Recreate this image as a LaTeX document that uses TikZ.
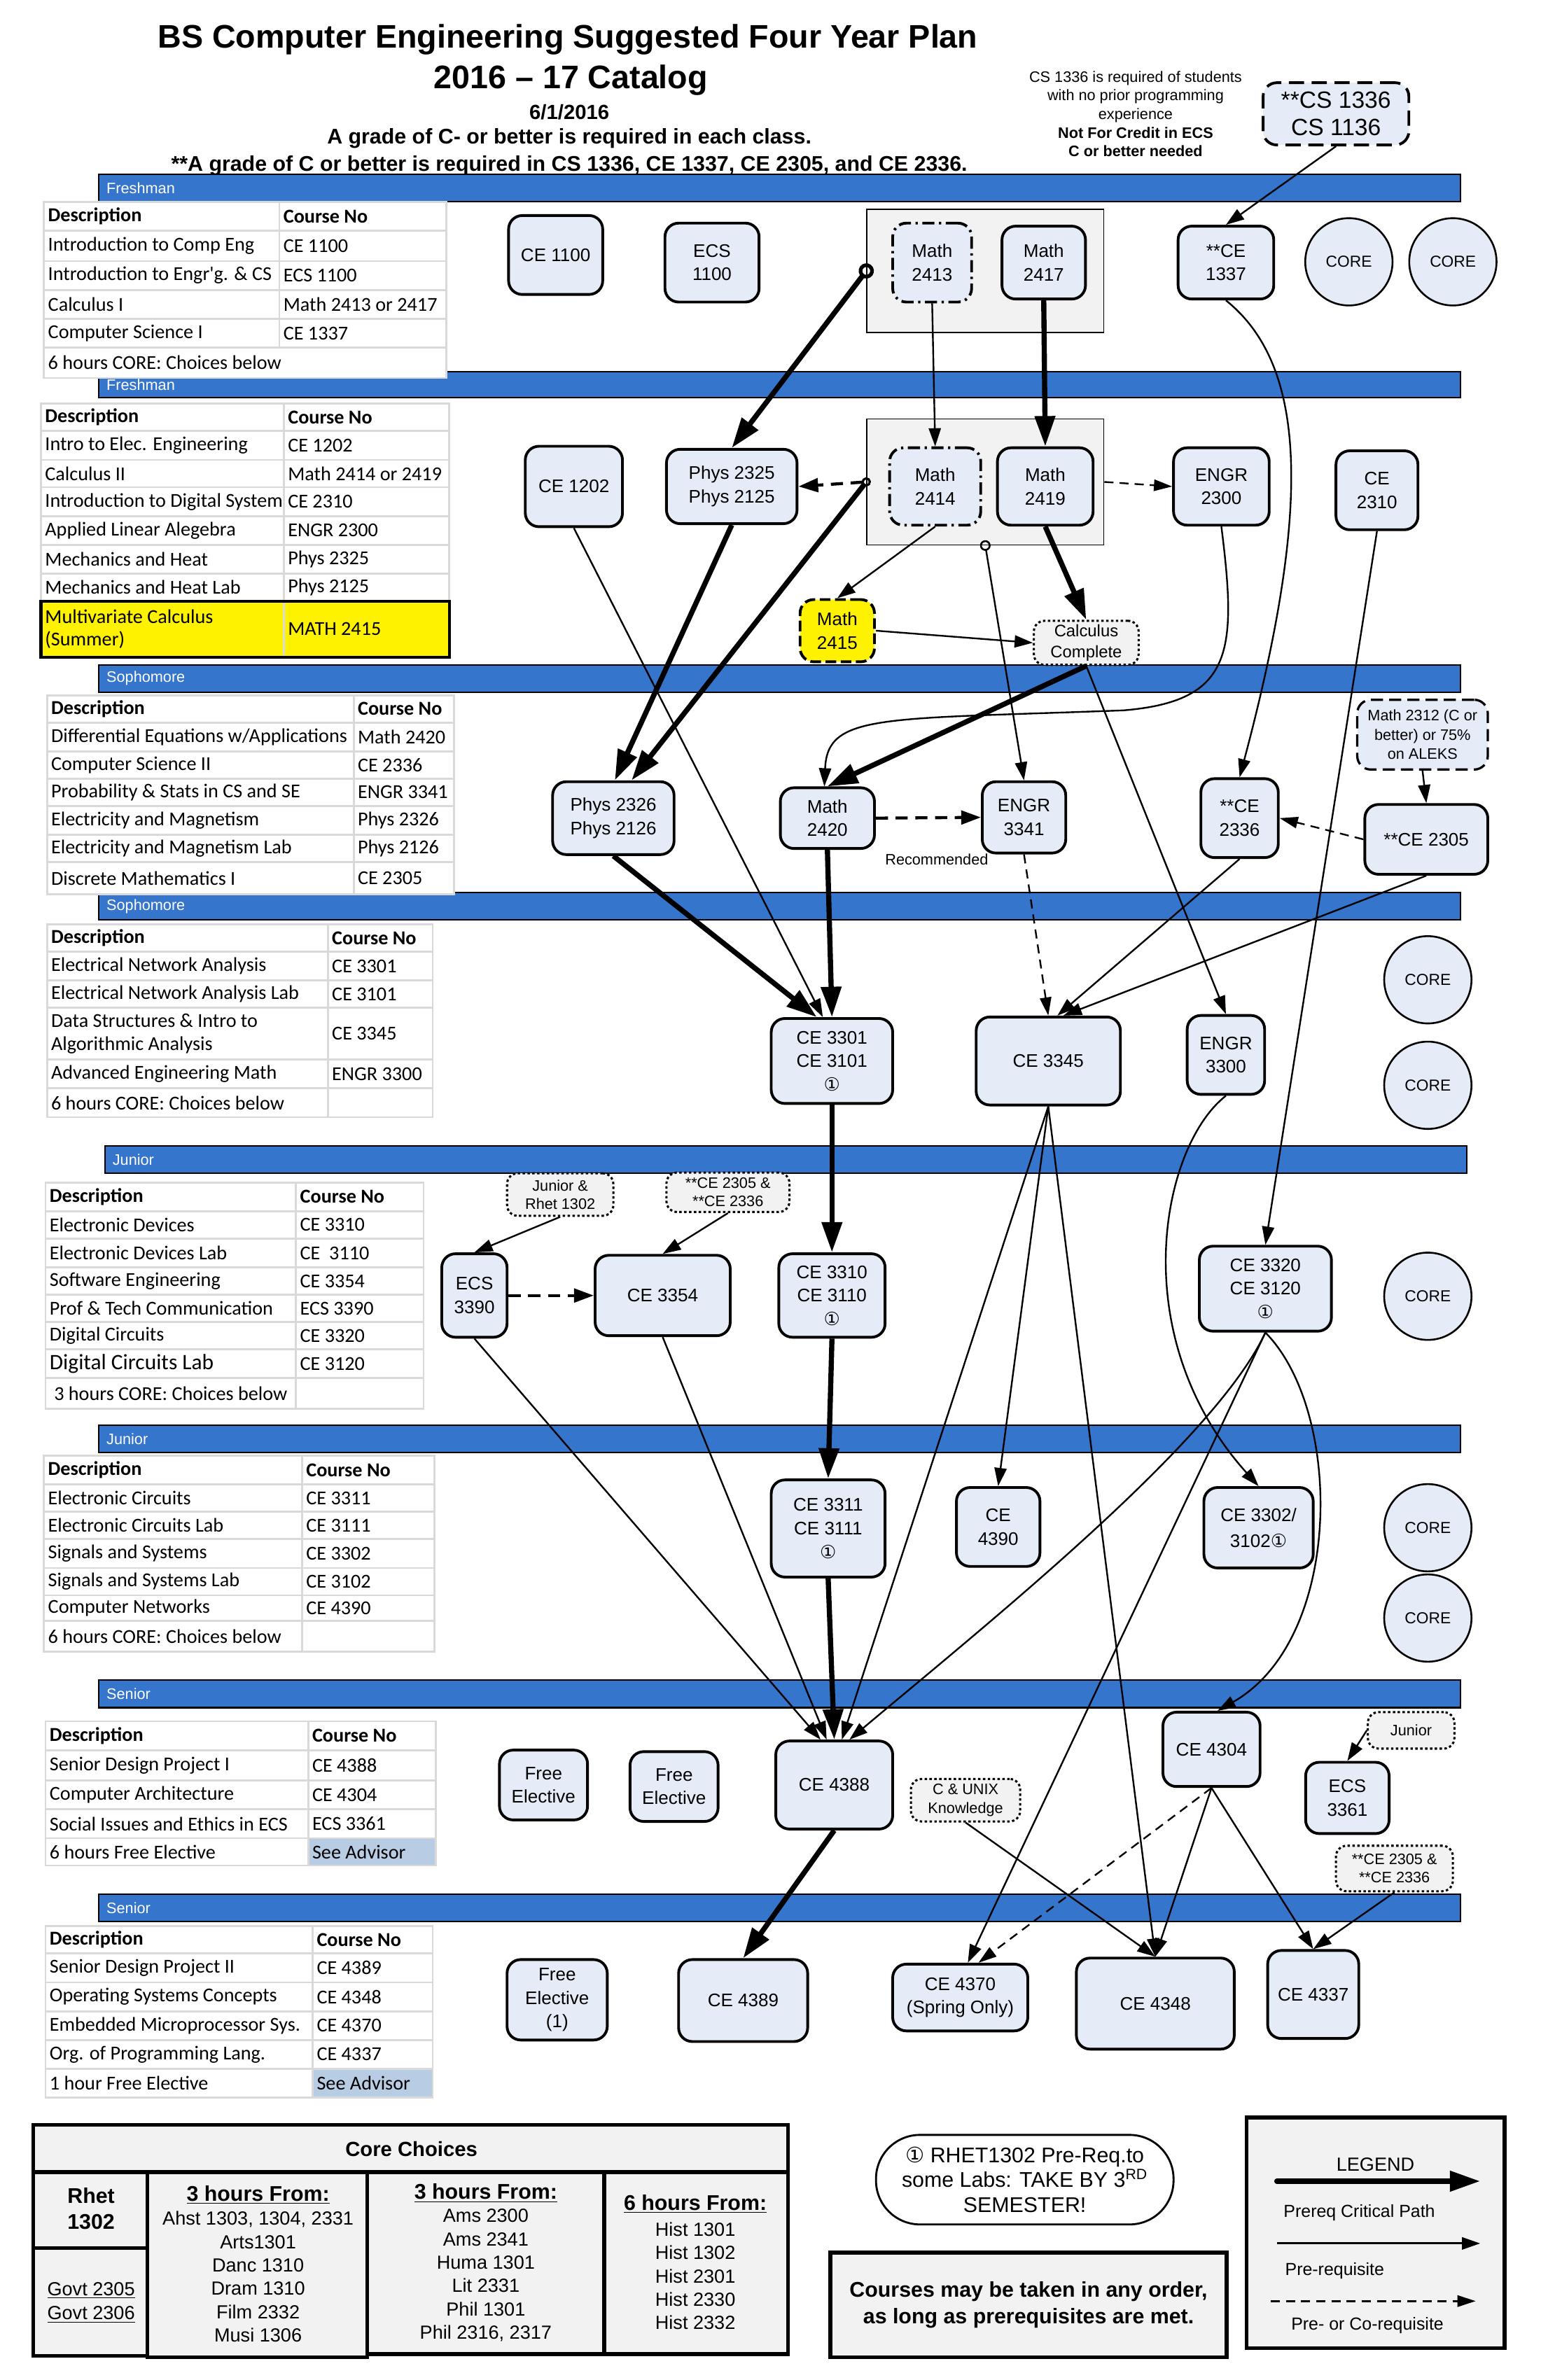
\documentclass[tikz,border=0pt]{standalone}
\usepackage{fontspec}
\setmainfont{Liberation Sans}
\newfontfamily\tabfont{Carlito}
\newfontfamily\symfont{DejaVu Sans}
\usepackage{tikz}
\usetikzlibrary{arrows.meta, positioning, calc}
\definecolor{bandblue}{HTML}{3575CC}
\definecolor{nodeblue}{HTML}{E6ECF7}
\definecolor{notegray}{HTML}{F2F2F2}
\definecolor{cellgray}{HTML}{D9D9D9}
\definecolor{advisorblue}{HTML}{B8CCE4}
\newcommand{\fsz}[2]{\fontsize{#1}{#2}\selectfont}
\newcommand{\circone}{{\symfont ①}}
\tikzset{
	wh/.style 2 args={minimum width=#1pt, minimum height=#2pt},
	course/.style={rectangle, rounded corners=9pt, draw=black, line width=1.8pt, fill=nodeblue, align=center, inner sep=0pt, font=\fsz{12}{15.5}},
	corecircle/.style={circle, draw=black, line width=1.2pt, fill=nodeblue, minimum size=57.5pt, inner sep=0pt, font=\fsz{10.5}{12}},
	notebox/.style={rectangle, rounded corners=7pt, draw=black, line width=1.4pt, dash pattern=on 1.6pt off 1.6pt, fill=notegray, align=center, inner sep=0pt, font=\fsz{10}{12.2}},
	dashdotbox/.style={dash pattern=on 8pt off 3pt on 1.5pt off 3pt},
	groupbox/.style={rectangle, draw=black, line width=0.8pt, fill=notegray, inner sep=0pt},
	band/.style={draw=black, line width=1pt, fill=bandblue},
	bandlabel/.style={anchor=west, text=white, inner sep=0pt, font=\fsz{10}{12}},
	cellframe/.style={draw=cellgray, line width=1.3pt},
	celltext/.style={anchor=west, align=left, inner sep=0pt, font=\tabfont\fsz{13}{15}},
	corebox/.style={draw=black, line width=2.5pt, fill=notegray},
	prereq/.style={line width=1.1pt, -{Triangle[length=12pt,width=8pt]}},
	critpath/.style={line width=3.4pt, -{Triangle[length=20pt,width=13pt]}},
	coreq/.style={line width=1.1pt, dash pattern=on 6pt off 4pt, -{Triangle[length=12pt,width=7.5pt]}},
	coreqbold/.style={line width=2pt, dash pattern=on 8pt off 5pt, -{Triangle[length=13pt,width=9pt]}}
}
% one table: name, left x, split x, right x, rows
\newcommand{\plantable}[5]{%
	\foreach \ya/\yb/\dtext/\ctext/\dfill/\cfill [count=\k] in {#5}{
		\draw[cellframe, fill=\dfill] (#2,\ya) rectangle (#3,\yb);
		\draw[cellframe, fill=\cfill] (#3,\ya) rectangle (#4,\yb);
		\node[celltext] (#1d\k) at ({#2+2.5},{(\ya+\yb)/2}) {\dtext};
		\node[celltext] (#1c\k) at ({#3+2.5},{(\ya+\yb)/2}) {\ctext};
	}}

\begin{document}
\begin{tikzpicture}[x=1pt, y=-1pt]
	\fill[white] (0,0) rectangle (1015,1568);
	\useasboundingbox (0,0) rectangle (1015,1568);

	% Title
	\node (title) at (374,26) {\fsz{21.5}{24}\bfseries BS Computer Engineering Suggested Four Year Plan};
	\node (catalog) at (376,53) {\fsz{21.5}{24}\bfseries 2016 – 17 Catalog};
	\node (date) at (375,74) {\fsz{13.5}{16}\bfseries 6/1/2016};
	\node (gradeA) at (375,91) {\fsz{14}{16}\bfseries A grade of C- or better is required in each class.};
	\node (gradeB) at (375,109) {\fsz{14}{16}\bfseries **A grade of C or better is required in CS 1336, CE 1337, CE 2305, and CE 2336.};
	\node[align=center, font=\fsz{10}{12.3}] (csnote) at (748,75) {CS 1336 is required of students\\with no prior programming\\experience\\\textbf{Not For Credit in ECS}\\\textbf{C or better needed}};

	% Year bands
	\foreach \ya/\yb/\xa/\xb/\lbl [count=\i] in {115/133/65/962/Freshman, 245/262/65/962/Freshman, 438/456/65/962/Sophomore, 588/606/65/962/Sophomore, 755/773/69/966/Junior, 939/957/65/962/Junior, 1107/1125/65/962/Senior, 1248/1266/65/962/Senior}{
		\draw[band] (\xa,\ya) rectangle (\xb,\yb);
		\node[bandlabel] (band\i) at ({\xa+5},{(\ya+\yb)/2}) {\lbl};
	}

	% Semester tables
	\plantable{t1}{29}{184}{294}{133/152/{\bfseries Description}/{\bfseries Course No}/white/white, 152/172/Introduction to Comp Eng/CE 1100/white/white, 172/191/Introduction to Engr'g. \& CS/ECS 1100/white/white, 191/210/Calculus I/Math 2413 or 2417/white/white, 210/229/Computer Science I/CE 1337/white/white}
	\draw[cellframe, fill=white] (29,229) rectangle (294,249);
	\node[celltext] (t1d6) at (31.5,239) {6 hours CORE: Choices below};
	\plantable{t2}{27}{187}{296}{266/284/{\bfseries Description}/{\bfseries Course No}/white/white, 284/303/Intro to Elec. Engineering/CE 1202/white/white, 303/321/Calculus II/Math 2414 or 2419/white/white, 321/340/Introduction to Digital System/CE 2310/white/white, 340/359/Applied Linear Alegebra/ENGR 2300/white/white, 359/378/Mechanics and Heat/Phys 2325/white/white, 378/396/Mechanics and Heat Lab/Phys 2125/white/white, 396/433/Multivariate Calculus\\(Summer)/MATH 2415/yellow/yellow}
	\draw[line width=2pt] (27,396) rectangle (296,433);
	\plantable{t3}{31}{233}{299}{458/476/{\bfseries Description}/{\bfseries Course No}/white/white, 476/495/{Differential Equations w/Applications}/Math 2420/white/white, 495/513/Computer Science II/CE 2336/white/white, 513/531/Probability \& Stats in CS and SE/ENGR 3341/white/white, 531/550/Electricity and Magnetism/Phys 2326/white/white, 550/568/Electricity and Magnetism Lab/Phys 2126/white/white, 568/589/Discrete Mathematics I/CE 2305/white/white}
	\plantable{t4}{31}{216}{285}{609/627/{\bfseries Description}/{\bfseries Course No}/white/white, 627/646/Electrical Network Analysis/CE 3301/white/white, 646/664/Electrical Network Analysis Lab/CE 3101/white/white, 664/698/Data Structures \& Intro to\\Algorithmic Analysis/CE 3345/white/white, 698/717/Advanced Engineering Math/ENGR 3300/white/white, 717/736/6 hours CORE: Choices below/{}/white/white}
	\plantable{t5}{30}{195}{279}{779/798/{\bfseries Description}/{\bfseries Course No}/white/white, 798/816/Electronic Devices/CE 3310/white/white, 816/835/Electronic Devices Lab/CE\ \ 3110/white/white, 835/853/Software Engineering/CE 3354/white/white, 853/871/Prof \& Tech Communication/ECS 3390/white/white, 871/889/Digital Circuits/CE 3320/white/white, 889/908/{\fsz{14.5}{16}Digital Circuits Lab}/CE 3120/white/white, 908/928/\ 3 hours CORE: Choices below/{}/white/white}
	\plantable{t6}{29}{199}{286}{959/978/{\bfseries Description}/{\bfseries Course No}/white/white, 978/996/Electronic Circuits/CE 3311/white/white, 996/1014/Electronic Circuits Lab/CE 3111/white/white, 1014/1033/Signals and Systems/CE 3302/white/white, 1033/1051/Signals and Systems Lab/CE 3102/white/white, 1051/1068/Computer Networks/CE 4390/white/white, 1068/1088/6 hours CORE: Choices below/{}/white/white}
	\plantable{t7}{30}{203}{287}{1134/1153/{\bfseries Description}/{\bfseries Course No}/white/white, 1153/1173/Senior Design Project I/CE 4388/white/white, 1173/1192/Computer Architecture/CE 4304/white/white, 1192/1211/Social Issues and Ethics in ECS/ECS 3361/white/white, 1211/1229/6 hours Free Elective/See Advisor/white/advisorblue}
	\plantable{t8}{30}{206}{285}{1269/1287/{\bfseries Description}/{\bfseries Course No}/white/white, 1287/1306/Senior Design Project II/CE 4389/white/white, 1306/1325/Operating Systems Concepts/CE 4348/white/white, 1325/1344/Embedded Microprocessor Sys./CE 4370/white/white, 1344/1363/Org. of Programming Lang./CE 4337/white/white, 1363/1382/1 hour Free Elective/See Advisor/white/advisorblue}

	% Freshman, first semester
	\node[course, wh={96}{41}, dash pattern=on 10pt off 5pt, font=\fsz{15.5}{18}] (cs1336) at (880,75) {**CS 1336\\CS 1136};
	\node[course, wh={62}{52}] (ce1100) at (366,168) {CE 1100};
	\node[course, wh={62}{52}] (ecs1100) at (469,173) {ECS\\1100};
	\node[groupbox, wh={156}{81}] (calcone) at (649,178.5) {};
	\node[course, wh={52}{52}, dashdotbox] (m2413) at (614,173) {Math\\2413};
	\node[course, wh={55}{48}] (m2417) at (687.5,173) {Math\\2417};
	\node[course, wh={63}{48}] (ce1337) at (807.5,173) {**CE\\1337};
	\node[corecircle] (core1) at (888.5,172.5) {CORE};
	\node[corecircle] (core2) at (957,172.5) {CORE};

	% Freshman, second semester
	\node[course, wh={64}{53}] (ce1202) at (378,320.5) {CE 1202};
	\node[course, wh={86}{49}] (phys2325) at (482,320.5) {Phys 2325\\Phys 2125};
	\node[groupbox, wh={156}{83}] (calctwo) at (649,317.5) {};
	\node[course, wh={60}{51}, dashdotbox] (m2414) at (616,320.5) {Math\\2414};
	\node[course, wh={63}{51}] (m2419) at (688.5,320.5) {Math\\2419};
	\node[course, wh={63}{51}] (engr2300) at (804.5,320.5) {ENGR\\2300};
	\node[course, wh={54}{52}] (ce2310) at (907,323) {CE\\2310};
	\node[course, wh={49}{41}, fill=yellow, dash pattern=on 7pt off 3pt] (m2415) at (551.5,415.5) {Math\\2415};
	\node[notebox, wh={69}{29}, font=\fsz{11}{13.5}] (calcdone) at (715.5,423.5) {Calculus\\Complete};

	% Sophomore, first semester
	\node[course, wh={80}{48}] (phys2326) at (404,539) {Phys 2326\\Phys 2126};
	\node[course, wh={62}{40}] (m2420) at (545,539) {Math\\2420};
	\node[course, wh={55}{47}] (engr3341) at (674.5,538.5) {ENGR\\3341};
	\node[course, wh={51}{52}] (ce2336) at (816.5,539) {**CE\\2336};
	\node[course, wh={86}{46}, line width=1.5pt, dash pattern=on 8pt off 4pt, font=\fsz{10}{12.7}] (m2312) at (937,484) {Math 2312 (C or\\better) or 75\%\\on ALEKS};
	\node[course, wh={81}{46}] (ce2305) at (939.5,553) {**CE 2305};
	\node[font=\fsz{10}{12}] (reclbl) at (617,566) {Recommended};

	% Sophomore, second semester
	\node[course, wh={80}{56}] (ce3301) at (548,699) {CE 3301\\CE 3101\\\circone};
	\node[course, wh={95}{58}] (ce3345) at (690.5,699) {CE 3345};
	\node[course, wh={51}{52}] (engr3300) at (807.5,695) {ENGR\\3300};
	\node[corecircle] (core3) at (940.5,645.5) {CORE};
	\node[corecircle] (core4) at (940.5,715) {CORE};

	% Junior, first semester
	\node[notebox, wh={70}{28}] (jrnote) at (369,787) {Junior \&\\Rhet 1302};
	\node[notebox, wh={81}{26}] (dmnote) at (479.5,785.5) {**CE 2305 \&\\**CE 2336};
	\node[course, wh={43}{55}] (ecs3390) at (312.5,853.5) {ECS\\3390};
	\node[course, wh={89}{53}] (ce3354) at (436.5,853.5) {CE 3354};
	\node[course, wh={70}{55}] (ce3310) at (548,853.5) {CE 3310\\CE 3110\\\circone};
	\node[course, wh={87}{56}] (ce3320) at (833.5,849) {CE 3320\\CE 3120\\\circone};
	\node[corecircle] (core5) at (940.5,854) {CORE};

	% Junior, second semester
	\node[course, wh={75}{64}] (ce3311) at (545.5,1007) {CE 3311\\CE 3111\\\circone};
	\node[course, wh={55}{52}] (ce4390) at (657.5,1006) {CE\\4390};
	\node[course, wh={72}{53}, font=\fsz{12}{17}] (ce3302) at (829,1006.5) {CE 3302/\\3102\circone};
	\node[corecircle] (core6) at (940.5,1006.5) {CORE};
	\node[corecircle] (core7) at (940.5,1066) {CORE};

	% Senior, first semester
	\node[course, wh={58}{46}] (free1) at (358,1176) {Free\\Elective};
	\node[course, wh={58}{46}] (free2) at (444,1177) {Free\\Elective};
	\node[course, wh={77}{58}] (ce4388) at (549.5,1176) {CE 4388};
	\node[notebox, wh={72}{28}] (unixnote) at (636,1186) {C \& UNIX\\Knowledge};
	\node[course, wh={64}{49}] (ce4304) at (798,1152.5) {CE 4304};
	\node[notebox, wh={57}{24}] (jnote) at (929.5,1140) {Junior};
	\node[course, wh={55}{47}] (ecs3361) at (887.5,1184.5) {ECS\\3361};
	\node[notebox, wh={77}{30}] (dmnote2) at (918.5,1231) {**CE 2305 \&\\**CE 2336};

	% Senior, second semester
	\node[course, wh={66}{53}] (free3) at (367,1317.5) {Free\\Elective\\(1)};
	\node[course, wh={85}{54}] (ce4389) at (489.5,1318) {CE 4389};
	\node[course, wh={89}{44}] (ce4370) at (632.5,1316) {CE 4370\\(Spring Only)};
	\node[course, wh={104}{60}] (ce4348) at (761,1320) {CE 4348};
	\node[course, wh={60}{58}] (ce4337) at (865,1314) {CE 4337};

	% Freshman prerequisites
	\coordinate (phystop) at ([xshift=12pt]phys2326.north);
	\draw[prereq] (cs1336.south) -- (ce1337.north);
	\draw[critpath, {Circle[open,length=10pt,width=10pt,line width=2.4pt]}-{Triangle[length=20pt,width=13pt]}] ($(calcone.west)!-5pt!(phys2325.north)$) -- (phys2325.north);
	\draw[prereq] (m2413.south) -- (m2414.north);
	\draw[critpath] (m2417.south) -- (m2419.north);
	\draw[coreqbold, {Circle[open,length=6pt,width=6pt,line width=1.3pt]}-{Triangle[length=13pt,width=9pt]}] ($(calctwo.west)!-3pt!(phys2325.east)$) -- (phys2325.east);
	\draw[critpath, {Circle[open,length=6pt,width=6pt,line width=1.3pt]}-{Triangle[length=20pt,width=13pt]}] ($(calctwo.west)!-3pt!(phystop)$) -- (phystop);
	\draw[coreq] (calctwo.east) -- (engr2300.west);
	\draw[prereq] (m2414.south) -- (m2415.north);
	\draw[critpath] (m2419.south) -- (calcdone.north);
	\draw[prereq] (m2415.east) -- (calcdone.west);
	\draw[prereq, {Circle[open,length=7pt,width=7pt,line width=1.2pt]}-{Triangle[length=12pt,width=8pt]}] ($(calctwo.south)!-3.5pt!(engr3341.north)$) -- (engr3341.north);
	\draw[critpath] (calcdone.south) -- (m2420.north);
	\draw[prereq] (engr2300.south) .. controls (815,430) and (812,462) .. (740,468) .. controls (580,474) and (545,470) .. ([xshift=-2pt]m2420.north);
	\draw[prereq] (ce1337.south) .. controls (860,240) and (865,330) .. (ce2336.north);
	\draw[prereq] (ce2310.south) -- (ce3320.north);
	\draw[prereq] (ce1202.south) -- ([xshift=-6pt]ce3301.north);
	\draw[critpath] (phys2325.south) -- ([xshift=1pt]phys2326.north);

	% Sophomore prerequisites
	\draw[critpath] (phys2326.south) -- ([xshift=-10pt]ce3301.north);
	\draw[critpath] (m2420.south) -- (ce3301.north);
	\draw[coreqbold] (m2420.east) -- (engr3341.west);
	\draw[prereq] (m2312.south) -- (ce2305.north);
	\draw[coreq] (ce2305.west) -- (ce2336.east);
	\draw[coreq] (engr3341.south) -- (ce3345.north);
	\draw[prereq] (ce2336.south) -- ([xshift=6pt]ce3345.north);
	\draw[prereq] (ce2305.south) -- ([xshift=10pt]ce3345.north);
	\draw[prereq] (calcdone.south) -- (engr3300.north);
	\draw[prereq] (engr3300.south) .. controls (765,755) and (740,880) .. (ce3302.north);

	% Junior prerequisites
	\draw[critpath] (ce3301.south) -- (ce3310.north);
	\draw[critpath] (ce3310.south) -- (ce3311.north);
	\draw[critpath] (ce3311.south) -- (ce4388.north);
	\draw[prereq] (jrnote.south) -- (ecs3390.north);
	\draw[prereq] (dmnote.south) -- (ce3354.north);
	\draw[coreqbold] (ecs3390.east) -- (ce3354.west);
	\draw[prereq] (ecs3390.south) -- ([xshift=-9pt]ce4388.north);
	\draw[prereq] (ce3354.south) -- ([xshift=-5pt]ce4388.north);
	\draw[prereq] (ce3345.south) -- ([xshift=5pt]ce4388.north);
	\draw[prereq] (ce3345.south) -- (ce4390.north);
	\draw[prereq] (ce3345.south) -- (ce4348.north);
	\draw[prereq] (ce3320.south) .. controls (800,950) and (650,1070) .. ([xshift=10pt]ce4388.north);
	\draw[prereq] (ce3320.south) -- ([xshift=5pt]ce4370.north);
	\draw[prereq] (ce3320.south) .. controls (885,930) and (885,1080) .. ([xshift=4pt]ce4304.north);

	% Senior prerequisites
	\draw[coreq] (ce4304.south) -- ([xshift=12pt]ce4370.north);
	\draw[prereq] (ce4304.south) -- (ce4348.north);
	\draw[prereq] (ce4304.south) -- (ce4337.north);
	\draw[prereq] (unixnote.south) -- (ce4348.north);
	\draw[prereq] (jnote.west) -- (ecs3361.north);
	\draw[prereq] (dmnote2.south) -- (ce4337.north);
	\draw[critpath] (ce4388.south) -- (ce4389.north);

	% Core choices
	\draw[corebox] (22,1400) rectangle (519,1431);
	\draw[corebox] (22,1431) rectangle (97,1481);
	\draw[corebox] (22,1481) rectangle (97,1552);
	\draw[corebox] (97,1431) rectangle (242,1553);
	\draw[corebox] (242,1431) rectangle (398,1551);
	\draw[corebox] (398,1431) rectangle (519,1551);
	\node[font=\fsz{13.5}{16}\bfseries] (corehead) at (271,1416) {Core Choices};
	\node[align=center, font=\fsz{14}{17}\bfseries] (rhet) at (60,1455) {Rhet\\1302};
	\node[align=center, font=\fsz{12.5}{16}] (govt) at (60,1517) {\underline{Govt 2305}\\\underline{Govt 2306}};
	\node[font=\fsz{14}{16}\bfseries] (hrsA) at (170,1446) {\underline{3 hours From:}};
	\node[align=center, font=\fsz{12.5}{15.4}] (listA) at (170,1500) {Ahst 1303, 1304, 2331\\Arts1301\\Danc 1310\\Dram 1310\\Film 2332\\Musi 1306};
	\node[font=\fsz{14}{16}\bfseries] (hrsB) at (320,1445) {\underline{3 hours From:}};
	\node[align=center, font=\fsz{12.5}{15.4}] (listB) at (320,1499) {Ams 2300\\Ams 2341\\Huma 1301\\Lit 2331\\Phil 1301\\Phil 2316, 2317};
	\node[font=\fsz{14}{16}\bfseries] (hrsC) at (458,1452) {\underline{6 hours From:}};
	\node[align=center, font=\fsz{12.5}{15.4}] (listC) at (458,1499.5) {Hist 1301\\Hist 1302\\Hist 2301\\Hist 2330\\Hist 2332};

	% Notes
	\node[draw, line width=1.3pt, fill=white, rounded corners=29pt, wh={196}{59}, inner sep=0pt, align=center, font=\fsz{14}{16.5}] (rhetnote) at (675,1436) {\circone\ RHET1302 Pre-Req.to\\some Labs: TAKE BY 3\textsuperscript{RD}\\SEMESTER!};
	\node[draw, line width=2.5pt, fill=notegray, wh={261}{69}, inner sep=0pt, align=center, font=\fsz{14}{17.5}\bfseries] (anyorder) at (677.5,1518.5) {Courses may be taken in any order,\\as long as prerequisites are met.};

	% Legend
	\draw[corebox] (821,1395) rectangle (991,1547);
	\node[font=\fsz{12.5}{15}] (legendtitle) at (906,1426) {LEGEND};
	\coordinate (lgAa) at (841,1437);
	\coordinate (lgAb) at (975,1437);
	\draw[critpath, line cap=round] (lgAa) -- (lgAb);
	\node[anchor=west, font=\fsz{11.5}{14}] (lgAtext) at (842,1458) {Prereq Critical Path};
	\coordinate (lgBa) at (841,1478);
	\coordinate (lgBb) at (975,1478);
	\draw[prereq, line width=1.3pt] (lgBa) -- (lgBb);
	\node[anchor=west, font=\fsz{11.5}{14}] (lgBtext) at (843,1496) {Pre-requisite};
	\coordinate (lgCa) at (837,1516);
	\coordinate (lgCb) at (972,1516);
	\draw[coreq, line width=1.3pt] (lgCa) -- (lgCb);
	\node[anchor=west, font=\fsz{11.5}{14}] (lgCtext) at (847,1532) {Pre- or Co-requisite};
\end{tikzpicture}
\end{document}
